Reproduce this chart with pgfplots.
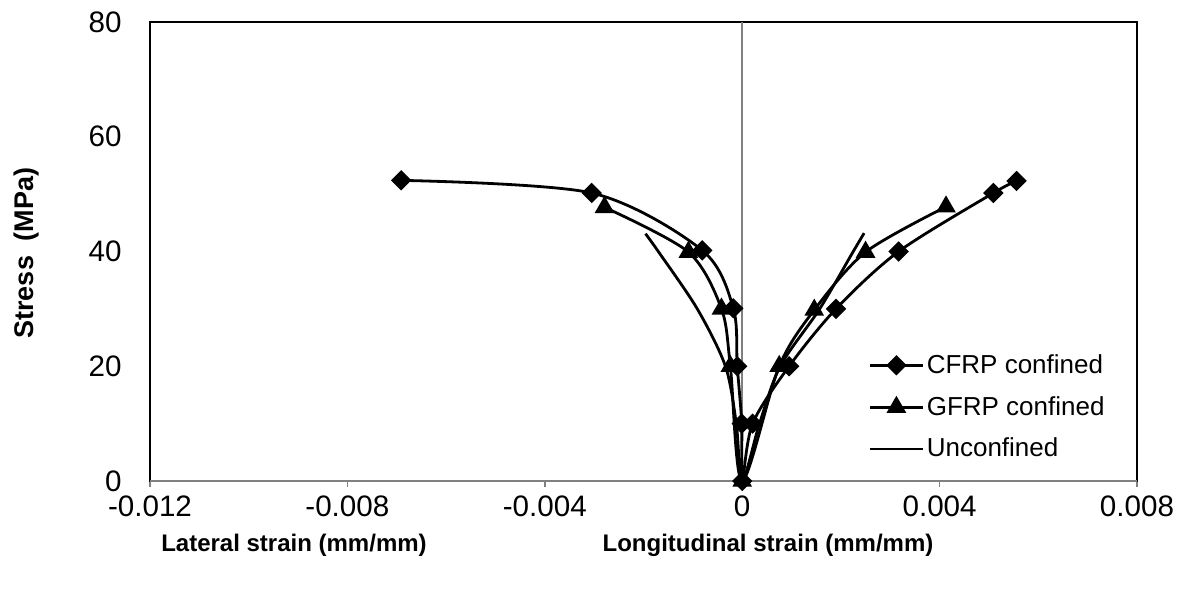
\documentclass[border=0pt]{standalone}
\usepackage{fontspec}
\setmainfont{Liberation Sans}
\usepackage{pgfplots}
\pgfplotsset{compat=1.18}
\begin{document}
\begin{tikzpicture}
\path[use as bounding box] (-75pt,-56.5pt) rectangle (517pt,240.5pt);
\begin{axis}[
  scale only axis, width=493.5pt, height=229.5pt,
  at={(0,0)}, anchor=south west,
  xmin=-0.012, xmax=0.008, ymin=0, ymax=80,
  xtick={-0.012,-0.008,-0.004,0,0.004,0.008},
  xticklabels={-0.012,-0.008,-0.004,0,0.004,0.008},
  scaled x ticks=false,
  ytick={0,20,40,60,80},
  xtick pos=bottom, ytick pos=left,
  /pgf/number format/assume math mode=true,
  ticklabel style={font=\fontsize{14.8}{17}\selectfont},
  tick align=outside,
  major tick length=3pt,
  xtick style={draw=gray, line width=0.8pt},
  ytick style={draw=none},
  xticklabel style={inner sep=0pt, yshift=-4pt},
  yticklabel style={inner sep=0pt, xshift=-11pt},
  axis line style={black, line width=0.8pt},
  clip=false,
  legend style={draw=none, fill=none, font=\fontsize{13}{15}\selectfont,
    at={(0.722,0.292)}, anchor=north west, row sep=7pt,
    nodes={inner sep=1.5pt}},
  legend cell align=left,
  legend image code/.code={\draw[mark repeat=2,mark phase=2,#1] plot coordinates {(0pt,0pt) (13pt,0pt) (26pt,0pt)};},
]
\draw[gray, line width=0.8pt] (axis cs:0,0) -- (axis cs:0,80);
\draw[gray, line width=0.8pt] (axis cs:-0.012,0) -- (axis cs:0.008,0);
\addplot[black, line width=1.4pt, smooth, tension=0.5, mark=square*, mark size=2.9pt, mark options={rotate=45, solid}]
coordinates {
(-0.00691,52.4) (-0.00305,50.2) (-0.00081,40.2) (-0.00018,30.1) (-0.00010,20.0) (-0.00001,10.0) (0,0)
(0.00021,10.0) (0.00095,20.0) (0.00190,30.0) (0.00317,40.0) (0.00509,50.2) (0.00556,52.3)
};
\addlegendentry{CFRP confined}
\addplot[black, line width=1.4pt, smooth, tension=0.5, mark=triangle*, mark size=4.3pt, mark options={solid}]
coordinates {
(-0.00279,47.7) (-0.00109,39.9) (-0.00042,30.0) (-0.00024,20.0) (0,0)
(0.00075,20.0) (0.00146,29.8) (0.00250,39.9) (0.00413,47.8)
};
\addlegendentry{GFRP confined}
\addplot[black, line width=1.4pt, smooth, tension=0.5, mark=none]
coordinates {
(-0.00196,43.1) (-0.00170,40) (-0.00091,30) (-0.00034,20) (-0.00012,10) (0,0)
(0.00035,10) (0.00077,20) (0.00157,30) (0.00225,40) (0.00247,43.2)
};
\addlegendentry{Unconfined}
\end{axis}
\node[font=\bfseries\fontsize{12}{14}\selectfont] at (72pt,-32pt) {Lateral strain (mm/mm)};
\node[font=\bfseries\fontsize{12}{14}\selectfont] at (309pt,-32pt) {Longitudinal strain (mm/mm)};
\node[font=\bfseries\fontsize{13.5}{15}\selectfont, rotate=90] at (-61.5pt,114pt) {Stress\ \ (MPa)};
\end{tikzpicture}
\end{document}
